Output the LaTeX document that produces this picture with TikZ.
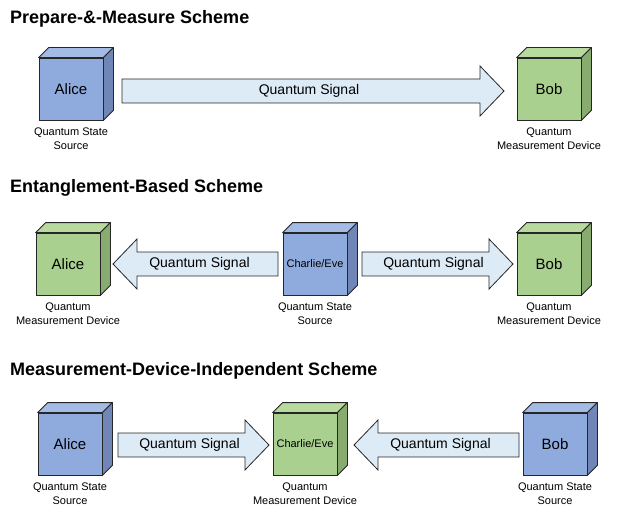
\documentclass[tikz,border=0pt]{standalone}
\usepackage{fontspec}
\setmainfont{Liberation Sans}
\usetikzlibrary{calc}
\definecolor{bluefront}{HTML}{8FAADC}
\definecolor{bluetop}{HTML}{A3BBE5}
\definecolor{blueside}{HTML}{6F86B6}
\definecolor{greenfront}{HTML}{A9D08E}
\definecolor{greentop}{HTML}{B8DA9F}
\definecolor{greenside}{HTML}{88AC70}
\definecolor{arrowfill}{HTML}{DDEBF7}
\definecolor{edge}{HTML}{262626}
\tikzset{
  cubefront/.style={draw=edge, line width=0.8pt, minimum width=64pt, minimum height=62pt, inner sep=0pt, font=\fontsize{15}{18}\selectfont},
  cubeedge/.style={draw=edge, line width=0.8pt, line join=round},
  caption/.style={anchor=north, align=center, inner sep=0pt, font=\fontsize{11}{14.5}\selectfont},
  title/.style={anchor=west, inner sep=0pt, font=\fontsize{18}{21}\selectfont\bfseries},
  sigarrow/.style={draw=edge, line width=0.8pt, fill=arrowfill, line join=miter},
  siglabel/.style={inner sep=0pt, font=\fontsize{14}{16}\selectfont}
}
\newcommand{\qcube}[7]{%
  \node[cubefront, fill=#4front, font=#7] (#1) at (#2,#3) {#5};
  \draw[cubeedge, fill=#4top] (#1.north west) -- ++(10,-10) -- ($(#1.north east)+(10,-10)$) -- (#1.north east) -- cycle;
  \draw[cubeedge, fill=#4side] (#1.north east) -- ++(10,-10) -- ($(#1.south east)+(10,-10)$) -- (#1.south east) -- cycle;
  \node[caption] (#1cap) at ($(#1.south)+(0,7)$) {#6};
}
\newcommand{\qarrow}[5]{%
  \pgfmathsetmacro\qdir{sign(#3-#2)}%
  \pgfmathsetmacro\qxb{#3-\qdir*24}%
  \pgfmathsetmacro\qxm{(#2+#3)/2-\qdir*4}%
  \draw[sigarrow] (#2,#4-12) -- (\qxb,#4-12) -- (\qxb,#4-25) -- (#3,#4) -- (\qxb,#4+25) -- (\qxb,#4+12) -- (#2,#4+12) -- cycle;
  \node[siglabel] (#1) at (\qxm,#4) {#5};
}
\begin{document}
\begin{tikzpicture}[x=1pt,y=-1pt]
\useasboundingbox (0,0) rectangle (618,508);
% Row 1
\node[title] (t1) at (10,19) {Prepare-\&-Measure Scheme};
\qcube{a1}{71}{89}{blue}{Alice}{Quantum State\\Source}{\fontsize{15}{18}\selectfont}
\qcube{b1}{549}{89}{green}{Bob}{Quantum\\Measurement Device}{\fontsize{15}{18}\selectfont}
\qarrow{s1}{122}{504}{91}{Quantum Signal}
% Row 2
\node[title] (t2) at (10,188) {Entanglement-Based Scheme};
\qcube{a2}{68}{264}{green}{Alice}{Quantum\\Measurement Device}{\fontsize{15}{18}\selectfont}
\qcube{c2}{315}{264}{blue}{Charlie/Eve}{Quantum State\\Source}{\fontsize{11}{13}\selectfont}
\qcube{b2}{549}{264}{green}{Bob}{Quantum\\Measurement Device}{\fontsize{15}{18}\selectfont}
\qarrow{s2}{278}{113}{264}{Quantum Signal}
\qarrow{s3}{362}{513}{264}{Quantum Signal}
% Row 3
\node[title] (t3) at (10,371) {Measurement-Device-Independent Scheme};
\qcube{a3}{70}{444}{blue}{Alice}{Quantum State\\Source}{\fontsize{15}{18}\selectfont}
\qcube{c3}{305}{444}{green}{Charlie/Eve}{Quantum\\Measurement Device}{\fontsize{11}{13}\selectfont}
\qcube{b3}{555}{444}{blue}{Bob}{Quantum State\\Source}{\fontsize{15}{18}\selectfont}
\qarrow{s4}{118}{269}{445}{Quantum Signal}
\qarrow{s5}{519}{354}{445}{Quantum Signal}
\end{tikzpicture}
\end{document}
